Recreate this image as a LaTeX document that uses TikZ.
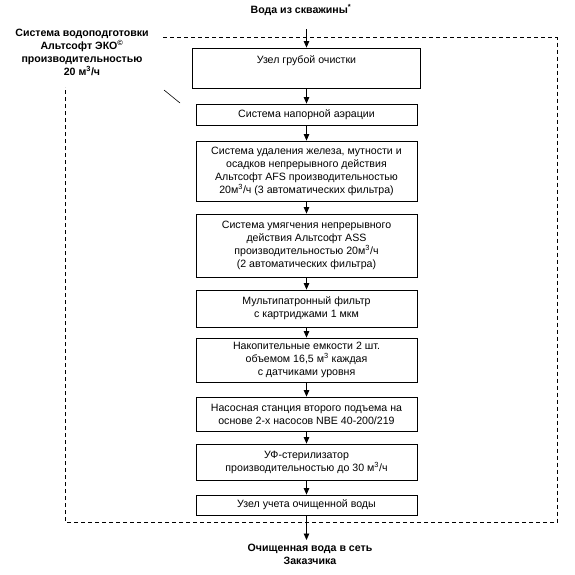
\documentclass[tikz,border=0pt]{standalone}
\usepackage{fontspec}
\setmainfont{Liberation Sans}
\usetikzlibrary{arrows.meta}
\begin{document}
\begin{tikzpicture}[x=1pt,y=-1pt,
  stage/.style={draw=black,line width=0.8pt,minimum width=221pt,inner sep=1pt,align=center,font=\fontsize{10.6}{13}\selectfont},
  flow/.style={line width=0.8pt,-{Triangle[width=5.5pt,length=6.5pt]}},
  frame/.style={line width=0.8pt,dash pattern=on 4pt off 3pt},
  title/.style={font=\bfseries\fontsize{10.6}{13}\selectfont,align=center,inner sep=0pt}]
\useasboundingbox (0,0) rectangle (575,574);
% frame
\coordinate (f1) at (163,37.5);
\coordinate (f2) at (557,37.5);
\coordinate (f3) at (557,522.5);
\coordinate (f4) at (65.5,522.5);
\coordinate (f5) at (65.5,87);
\draw[frame] (f1) -- (f2) -- (f3) -- (f4) -- (f5);
% diagonal tick
\coordinate (d1) at (164,90);
\coordinate (d2) at (180,103);
\draw[line width=0.6pt] (d1) -- (d2);
% titles
\node[title] (src) at (301,10) {Вода из скважины\textsuperscript{*}};
\node[title] (sys) at (82,52.5) {Система водоподготовки\\Альтсофт ЭКО\textsuperscript{©}\\производительностью\\20 м\textsuperscript{3}/ч};
\node[title] (dst) at (310,554) {Очищенная вода в сеть\\Заказчика};
% boxes
\node[stage,minimum width=228pt,minimum height=40pt] (b1) at (306.5,68) {Узел грубой очистки\\\strut};
\node[stage,minimum height=21pt] (b2) at (306.5,114.5) {Система напорной аэрации};
\node[stage,minimum height=60pt] (b3) at (306.5,171) {Система удаления железа, мутности и\\осадков непрерывного действия\\Альтсофт AFS производительностью\\20м\textsuperscript{3}/ч (3 автоматических фильтра)};
\node[stage,minimum height=63pt] (b4) at (306.5,245.5) {Система умягчения непрерывного\\действия Альтсофт ASS\\производительностью 20м\textsuperscript{3}/ч\\(2 автоматических фильтра)};
\node[stage,minimum height=37pt] (b5) at (306.5,308.5) {Мультипатронный фильтр\\с картриджами 1 мкм};
\node[stage,minimum height=44pt] (b6) at (306.5,360) {Накопительные емкости 2 шт.\\объемом 16,5 м\textsuperscript{3} каждая\\с датчиками уровня};
\node[stage,minimum height=34pt] (b7) at (306.5,414) {Насосная станция второго подъема на\\основе 2-х насосов NBE 40-200/219};
\node[stage,minimum height=36pt] (b8) at (306.5,462) {УФ-стерилизатор\\производительностью до 30 м\textsuperscript{3}/ч};
\node[stage,minimum height=20pt] (b9) at (306.5,505) {Узел учета очищенной воды};
% arrows
\coordinate (a0) at (306.5,29);
\coordinate (aE) at (306.5,540);
\draw[flow] (a0) -- (b1.north);
\draw[flow] (b1) -- (b2);
\draw[flow] (b2) -- (b3);
\draw[flow] (b3) -- (b4);
\draw[flow] (b4) -- (b5);
\draw[flow] (b5) -- (b6);
\draw[flow] (b6) -- (b7);
\draw[flow] (b7) -- (b8);
\draw[flow] (b8) -- (b9);
\draw[flow] (b9) -- (aE);
\end{tikzpicture}
\end{document}
